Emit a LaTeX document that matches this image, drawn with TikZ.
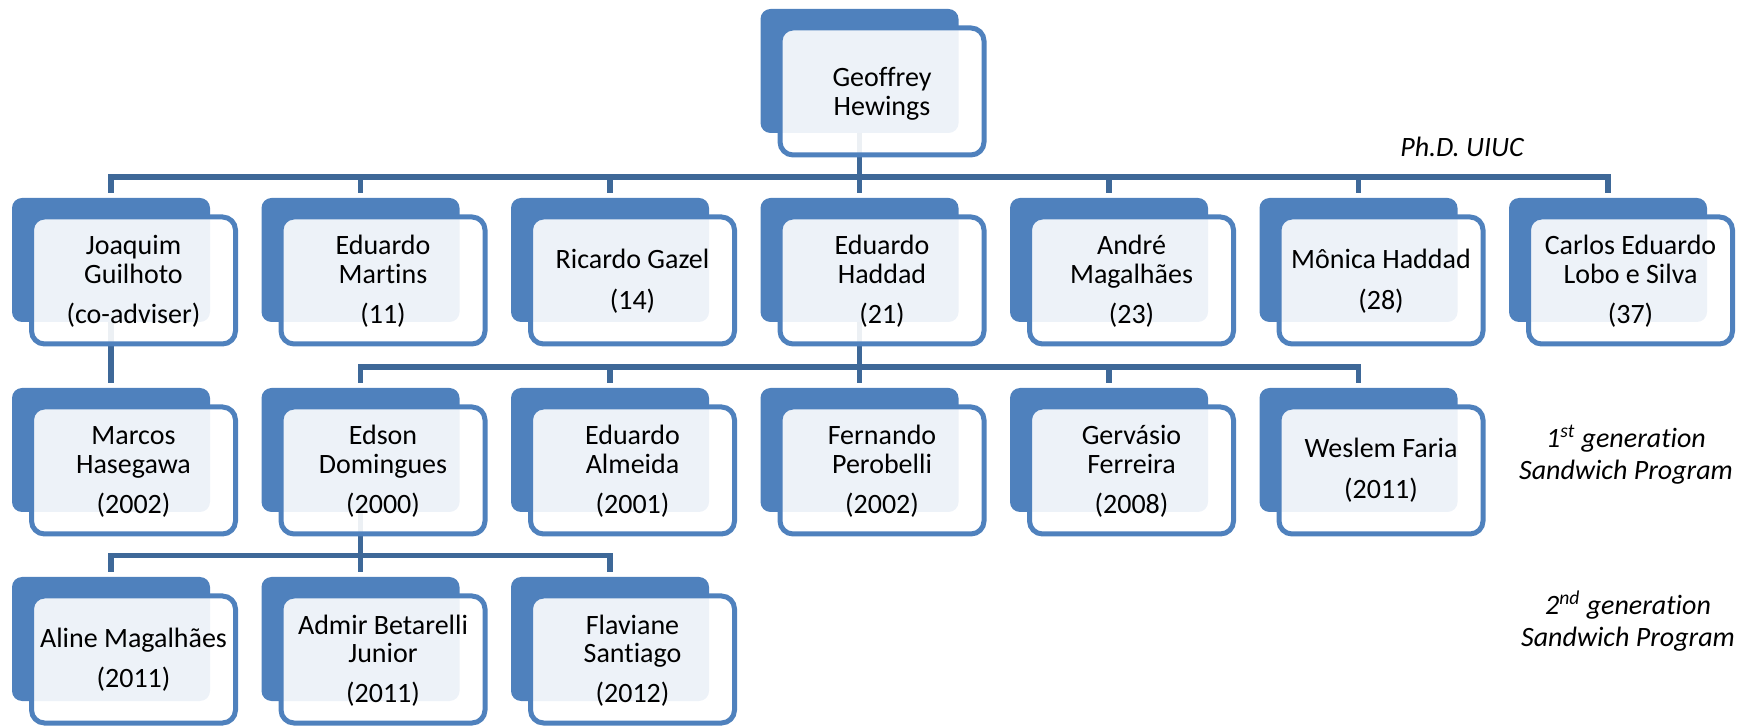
\documentclass[tikz,border=0pt]{standalone}
\usepackage{fontspec}
\setmainfont{Carlito}[Ligatures=NoCommon]
\definecolor{boxblue}{RGB}{79,129,189}
\definecolor{connblue}{RGB}{62,104,152}
\pgfdeclarelayer{mid}
\pgfdeclarelayer{front}
\pgfsetlayers{main,mid,front}
\tikzset{
  darkbox/.style={rectangle, rounded corners=5pt, fill=boxblue, minimum width=99pt, minimum height=62pt, inner sep=0pt, outer sep=0pt},
  frontbox/.style={rectangle, rounded corners=6.5pt, draw=boxblue, line width=2.5pt, fill=white, fill opacity=0.9, minimum width=102pt, minimum height=63.5pt, inner sep=0pt, outer sep=0pt},
  conn/.style={draw=connblue, line width=2.75pt},
  txt/.style={anchor=base, inner sep=0pt, font=\fontsize{14}{14.25}\selectfont, text=black},
  note/.style={anchor=base, inner sep=0pt, font=\fontsize{14}{16}\selectfont\itshape, text=black},
}
\newcommand\orgunit[5]{%
  \node[darkbox] (#1) at ({#2+99},{#3+62}) {};
  \begin{pgfonlayer}{front}
  \node[frontbox] (#1f) at ({#2+121.5},{#3+82.5}) {};
  \node[txt] (#1t) at ({#2+121.5},{#3+#4}) {\begin{tabular}[t]{@{}c@{}}#5\end{tabular}};
  \end{pgfonlayer}
}
\begin{document}
\begin{tikzpicture}[x=0.5pt,y=-0.5pt]
\useasboundingbox (0,0) rectangle (1740,726);
% top
\orgunit{gh}{760.5}{9}{78}{Geoffrey\\Hewings}
% row 1
\orgunit{jg}{12}{198}{57}{Joaquim\\Guilhoto\\[5.25pt](co-adviser)}
\orgunit{em}{261.5}{198}{57}{Eduardo\\Martins\\[5.25pt](11)}
\orgunit{rg}{511}{198}{71}{Ricardo Gazel\\[5.75pt](14)}
\orgunit{eh}{760.5}{198}{57}{Eduardo\\Haddad\\[5.25pt](21)}
\orgunit{am}{1010}{198}{57}{André\\Magalhães\\[5.25pt](23)}
\orgunit{mo}{1259.5}{198}{71}{Mônica Haddad\\[5.75pt](28)}
\orgunit{cl}{1509}{198}{57}{Carlos Eduardo\\Lobo e Silva\\[5.25pt](37)}
% row 2
\orgunit{mh}{12}{388}{57}{Marcos\\Hasegawa\\[5.25pt](2002)}
\orgunit{ed}{261.5}{388}{57}{Edson\\Domingues\\[5.25pt](2000)}
\orgunit{ea}{511}{388}{57}{Eduardo\\Almeida\\[5.25pt](2001)}
\orgunit{fp}{760.5}{388}{57}{Fernando\\Perobelli\\[5.25pt](2002)}
\orgunit{gf}{1010}{388}{57}{Gervásio\\Ferreira\\[5.25pt](2008)}
\orgunit{wf}{1259.5}{388}{70}{Weslem Faria\\[5.75pt](2011)}
% row 3
\orgunit{al}{12}{577}{70}{Aline Magalhães\\[5.75pt](2011)}
\orgunit{ab}{261.5}{577}{57}{Admir Betarelli\\Junior\\[5.25pt](2011)}
\orgunit{fs}{511}{577}{57}{Flaviane\\Santiago\\[5.25pt](2012)}
% connectors
\coordinate (bus0) at (0,177);
\coordinate (bus1) at (0,367);
\coordinate (bus2) at (0,555.5);
\begin{pgfonlayer}{mid}
\foreach \c in {jg,em,rg,eh,am,mo,cl}
  \draw[conn] (gh.south) -- (gh.south |- bus0) -| ([yshift=2.5pt]\c.north);
\foreach \c in {ed,ea,fp,gf,wf}
  \draw[conn] (eh.south) -- (eh.south |- bus1) -| ([yshift=2.5pt]\c.north);
\foreach \c in {al,ab,fs}
  \draw[conn] (ed.south) -- (ed.south |- bus2) -| ([yshift=2.5pt]\c.north);
\draw[conn] (jg.south) -- ([yshift=2.5pt]mh.north);
\end{pgfonlayer}
% labels
\node[note] (phd) at (1462,157) {Ph.D. UIUC};
\node[note] (gen1) at (1626,448) {\begin{tabular}[t]{@{}c@{}}1\textsuperscript{st} generation\\Sandwich Program\end{tabular}};
\node[note] (gen2) at (1628,615) {\begin{tabular}[t]{@{}c@{}}2\textsuperscript{nd} generation\\Sandwich Program\end{tabular}};
\end{tikzpicture}
\end{document}
